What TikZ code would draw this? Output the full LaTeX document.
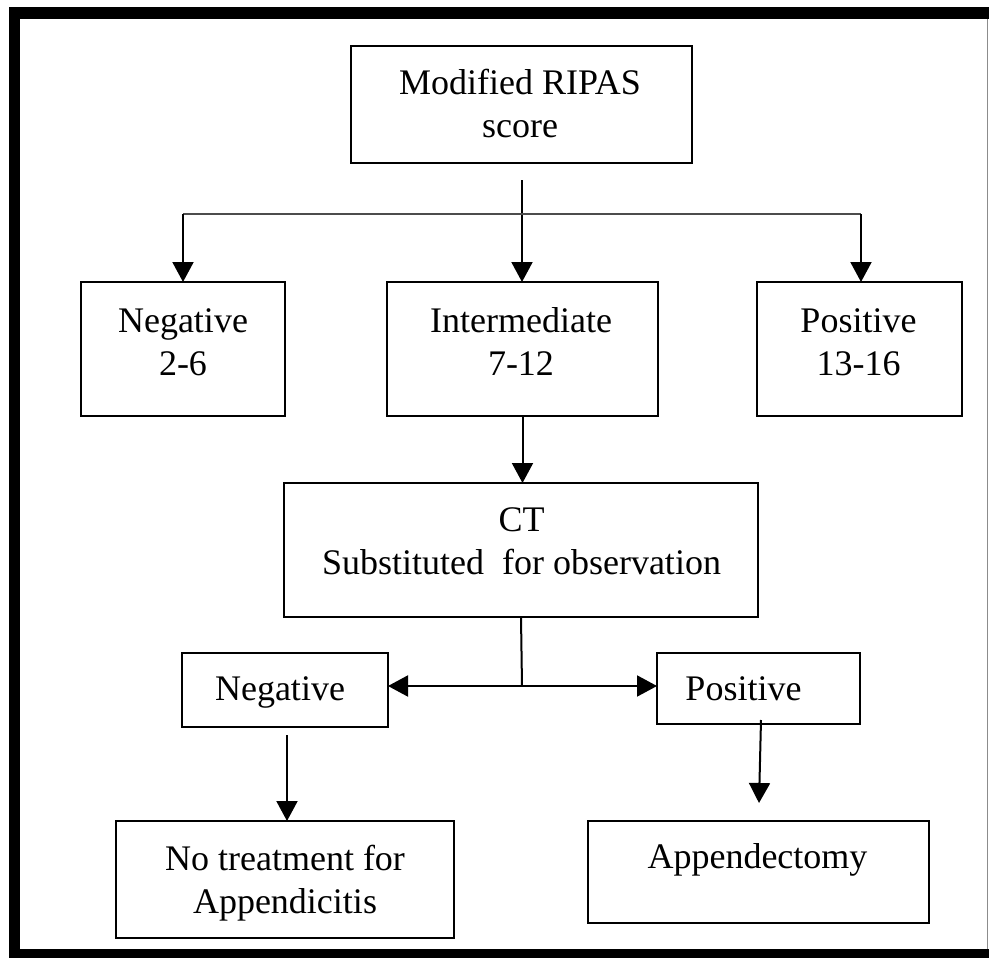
\documentclass[tikz,border=0pt]{standalone}
\usepackage{fontspec}
\setmainfont{Liberation Serif}
\usetikzlibrary{arrows.meta}
\tikzset{
  box/.style={draw=black, line width=2pt, fill=none, inner sep=0pt, outer sep=0pt},
  txt/.style={inner sep=0pt, outer sep=0pt, align=center, anchor=base,
    font=\fontsize{36}{43}\selectfont},
  link/.style={draw=black, line width=2pt},
  arr/.style={link, -{Triangle[width=21pt,length=20pt]}},
}
\begin{document}
\begin{tikzpicture}[x=1pt,y=-1pt]
\useasboundingbox (0,0) rectangle (989,958);
\fill[white] (0,0) rectangle (989,958);
% frame
\fill[black] (9,7) rectangle (20,958);
\fill[black] (9,7) rectangle (989,19);
\fill[black] (9,949) rectangle (989,958);
\draw[black!45, line width=1pt] (987,19) -- (987,949);

% boxes
\node[box, minimum width=341pt, minimum height=117pt] (ripas) at (521.5,104.5) {};
\node[box, minimum width=204pt, minimum height=134pt] (negA) at (183,349) {};
\node[box, minimum width=271pt, minimum height=134pt] (inter) at (522.5,349) {};
\node[box, minimum width=205pt, minimum height=134pt] (posA) at (859.5,349) {};
\node[box, minimum width=474pt, minimum height=134pt] (ct) at (521,550) {};
\node[box, minimum width=206pt, minimum height=74pt] (negB) at (285,690) {};
\node[box, minimum width=203pt, minimum height=71pt] (posB) at (758.5,688.5) {};
\node[box, minimum width=338pt, minimum height=117pt] (notreat) at (285,879.5) {};
\node[box, minimum width=341pt, minimum height=102pt] (appy) at (758.5,872) {};

% texts (base anchor = baseline of the last line)
\node[txt] (ripasT) at (520,137) {Modified RIPAS\\score};
\node[txt] (negAT) at (183,375) {Negative\\2-6};
\node[txt] (interT) at (521,375) {Intermediate\\7-12};
\node[txt] (posAT) at (858.5,375) {Positive\\13-16};
\node[txt] (ctT) at (521.5,574) {CT\\Substituted\ \ for observation};
\node[txt] (negBT) at (280,700) {Negative};
\node[txt] (posBT) at (743.5,700) {Positive};
\node[txt] (notreatT) at (285,913) {No treatment for\\Appendicitis};
\node[txt] (appyT) at (757.5,868) {Appendectomy};

% connectors
\coordinate (s0) at (522,180);
\coordinate (hl) at (183,214);
\coordinate (hr) at (861,214);
\draw[arr] (s0) -- (s0 |- inter.north);
\draw[link, draw=black!70, line width=2.5pt] (hl) -- (hr);
\draw[arr] (hl) -- (hl |- negA.north);
\draw[arr] (hr) -- (hr |- posA.north);
\draw[arr] (inter.south) -- (inter.south |- ct.north);
\coordinate (j) at (522,686);
\draw[link] (ct.south) -- (j);
\draw[arr] (j) -- (j -| negB.east);
\draw[arr] (j) -- (j -| posB.west);
\coordinate (a1) at (287,735);
\draw[arr] (a1) -- (a1 |- notreat.north);
\coordinate (b1) at (761,720);
\coordinate (b2) at (759,803);
\draw[arr] (b1) -- (b2);
\end{tikzpicture}
\end{document}
